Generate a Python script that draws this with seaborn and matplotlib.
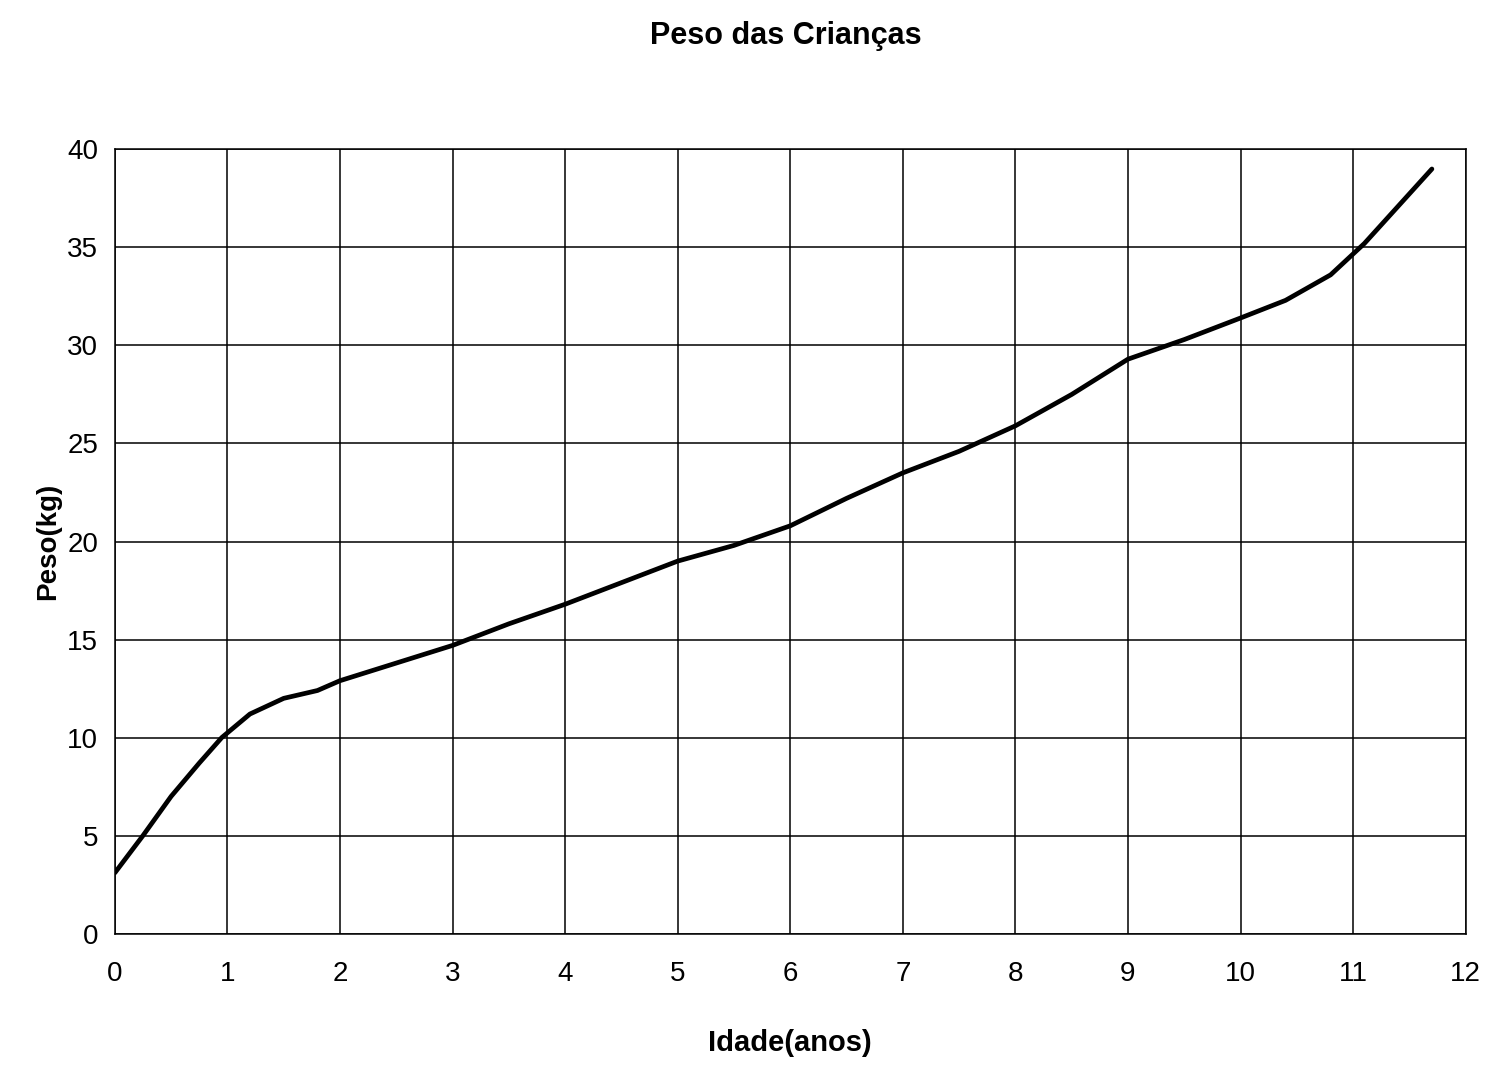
import matplotlib
matplotlib.use("Agg")
import matplotlib.pyplot as plt
import seaborn as sns
import pandas as pd

idade = [0, 0.25, 0.5, 0.75, 0.95, 1.2, 1.5, 1.8, 2, 2.5, 3, 3.5, 4, 4.5, 5, 5.5, 6, 6.5, 7, 7.5, 8, 8.5, 9, 9.5, 10, 10.4, 10.8, 11.1, 11.4, 11.7]
peso = [3.1, 5.0, 7.0, 8.7, 10.0, 11.2, 12.0, 12.4, 12.9, 13.8, 14.7, 15.8, 16.8, 17.9, 19.0, 19.8, 20.8, 22.2, 23.5, 24.6, 25.9, 27.5, 29.3, 30.3, 31.4, 32.3, 33.6, 35.2, 37.1, 39.0]
x_ticks = list(range(0, 13))
y_ticks = list(range(0, 41, 5))

sns.set_theme(style="white")
plt.rcParams['font.family'] = ['Liberation Sans', 'DejaVu Sans']
plt.rcParams['text.color'] = 'black'

df = pd.DataFrame({"Idade": idade, "Peso": peso})
fig = plt.figure(figsize=(15.11, 10.67), dpi=100)
ax = fig.add_axes([0.076, 0.125, 0.894, 0.735])
sns.lineplot(data=df, x="Idade", y="Peso", ax=ax, color="black", linewidth=3.4)

ax.set_xlim(0, 12)
ax.set_ylim(0, 40)
ax.set_xticks(x_ticks)
ax.set_yticks(y_ticks)
ax.grid(True, color="black", linewidth=1.1)
for s in ax.spines.values():
    s.set_visible(True)
    s.set_color('black')
    s.set_linewidth(1.1)
ax.tick_params(axis='both', labelsize=20, length=0, colors='black')
ax.tick_params(axis='x', pad=20)
ax.tick_params(axis='y', pad=12)
ax.set_xlabel("Idade(anos)", fontsize=21, fontweight='bold', labelpad=30, color='black')
ax.set_ylabel("Peso(kg)", fontsize=20, fontweight='bold', labelpad=4, color='black')
fig.suptitle("Peso das Crianças", fontsize=22, fontweight='bold', x=0.52, y=0.98, color='black')
fig.savefig("out.png", dpi=100, facecolor="white")
